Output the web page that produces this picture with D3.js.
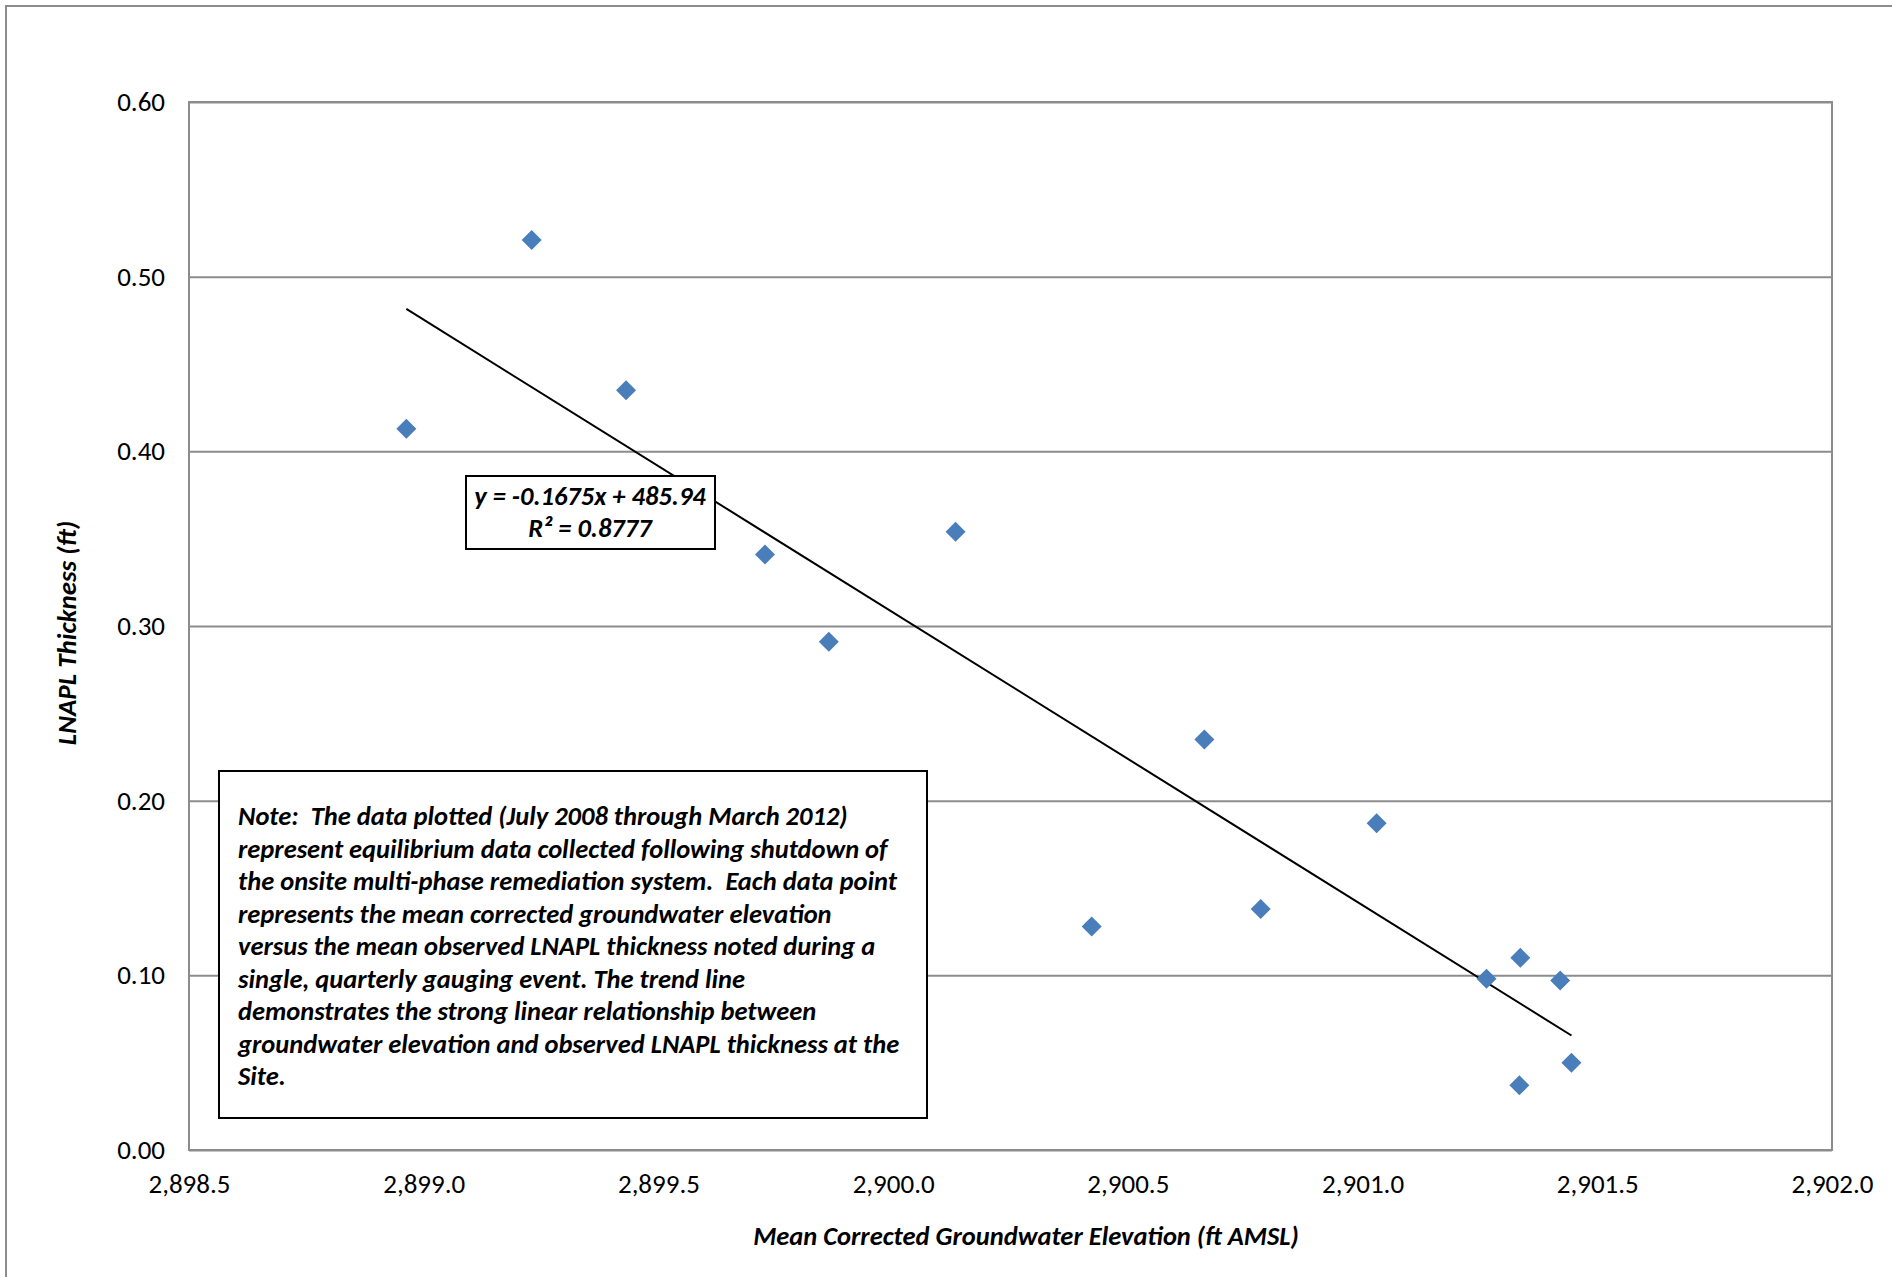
<!DOCTYPE html>
<html>
<head>
<meta charset="utf-8">
<script src="https://cdn.jsdelivr.net/npm/d3@7"></script>
<style>
  body { margin: 0; background: #fff; }
  text { font-family: Carlito, Lato, "Open Sans", sans-serif; fill: #000; }
</style>
</head>
<body>
<div id="chart"></div>
<script>
// Mean corrected groundwater elevation (ft AMSL) vs mean LNAPL thickness (ft)
var elevation = [2898.963, 2899.230, 2899.431, 2899.727, 2899.863, 2900.133, 2900.423,
    2900.663, 2900.783, 2901.030, 2901.264, 2901.336, 2901.421, 2901.334, 2901.445];
var thickness = [0.413, 0.521, 0.435, 0.341, 0.291, 0.354, 0.128,
    0.235, 0.138, 0.187, 0.098, 0.110, 0.097, 0.037, 0.050];
var x_ticks = [2898.5, 2899.0, 2899.5, 2900.0, 2900.5, 2901.0, 2901.5, 2902.0];
var y_ticks = [0.00, 0.10, 0.20, 0.30, 0.40, 0.50, 0.60];
var equation = ['y = -0.1675x + 485.94', 'R² = 0.8777'];
var note = [
    'Note:  The data plotted (July 2008 through March 2012)',
    'represent equilibrium data collected following shutdown of',
    'the onsite multi-phase remediation system.  Each data point',
    'represents the mean corrected groundwater elevation',
    'versus the mean observed LNAPL thickness noted during a',
    'single, quarterly gauging event. The trend line',
    'demonstrates the strong linear relationship between',
    'groundwater elevation and observed LNAPL thickness at the',
    'Site.'
];

var chart_width = 1892;
var chart_height = 1277;
var plot = { left: 189, top: 102, right: 1832, bottom: 1150 };

var svg = d3.select('#chart')
    .append('svg')
    .attr('width', chart_width)
    .attr('height', chart_height);

// chart area border (runs off the right / bottom edge)
svg.append('rect')
    .attr('x', 6).attr('y', 6)
    .attr('width', chart_width + 20).attr('height', chart_height + 20)
    .attr('fill', 'none')
    .attr('stroke', '#8c8c8c')
    .attr('stroke-width', 2);

// scales
var x_scale = d3.scaleLinear()
    .domain([x_ticks[0], x_ticks[x_ticks.length - 1]])
    .range([plot.left, plot.right]);

var y_scale = d3.scaleLinear()
    .domain([y_ticks[0], y_ticks[y_ticks.length - 1]])
    .range([plot.bottom, plot.top]);

// y axis with gridlines
var y_axis = svg.append('g')
    .attr('transform', 'translate(' + plot.left + ',0)')
    .call(d3.axisLeft(y_scale)
        .tickValues(y_ticks)
        .tickSize(-(plot.right - plot.left))
        .tickPadding(24)
        .tickFormat(d3.format('.2f')));
y_axis.select('.domain').remove();
y_axis.selectAll('line')
    .attr('stroke', '#8c8c8c')
    .attr('stroke-width', 2);
y_axis.selectAll('text')
    .attr('font-size', 27)
    .attr('font-family', 'Carlito, Lato, sans-serif');

// x axis labels
var x_axis = svg.append('g')
    .attr('transform', 'translate(0,' + plot.bottom + ')')
    .call(d3.axisBottom(x_scale)
        .tickValues(x_ticks)
        .tickSize(0)
        .tickPadding(24)
        .tickFormat(d3.format(',.1f')));
x_axis.select('.domain').remove();
x_axis.selectAll('text')
    .attr('font-size', 27)
    .attr('font-family', 'Carlito, Lato, sans-serif');

// plot area border
svg.append('rect')
    .attr('x', plot.left).attr('y', plot.top)
    .attr('width', plot.right - plot.left)
    .attr('height', plot.bottom - plot.top)
    .attr('fill', 'none')
    .attr('stroke', '#8c8c8c')
    .attr('stroke-width', 2);

// linear trend line (least squares)
var n = elevation.length;
var mx = d3.mean(elevation), my = d3.mean(thickness);
var sxy = 0, sxx = 0;
for (var i = 0; i < n; i++) {
    sxy += (elevation[i] - mx) * (thickness[i] - my);
    sxx += (elevation[i] - mx) * (elevation[i] - mx);
}
var slope = sxy / sxx;
var intercept = my - slope * mx;
var x_ext = d3.extent(elevation);

svg.append('line')
    .attr('x1', x_scale(x_ext[0]))
    .attr('y1', y_scale(slope * x_ext[0] + intercept))
    .attr('x2', x_scale(x_ext[1]))
    .attr('y2', y_scale(slope * x_ext[1] + intercept))
    .attr('stroke', '#000')
    .attr('stroke-width', 2);

// diamonds
svg.selectAll('path.pt')
    .data(d3.range(n))
    .enter()
    .append('path')
    .attr('class', 'pt')
    .attr('d', d3.symbol(d3.symbolSquare, 200))
    .attr('transform', function (i) {
        return 'translate(' + x_scale(elevation[i]) + ',' + y_scale(thickness[i]) + ') rotate(45)';
    })
    .attr('fill', '#4a7ebb');

// equation box
var eq = svg.append('g');
eq.append('rect')
    .attr('x', 466).attr('y', 476)
    .attr('width', 249).attr('height', 73)
    .attr('fill', '#fff')
    .attr('stroke', '#000')
    .attr('stroke-width', 2);
eq.selectAll('text')
    .data(equation)
    .enter()
    .append('text')
    .attr('x', 590)
    .attr('y', function (d, i) { return 505 + i * 32; })
    .attr('text-anchor', 'middle')
    .attr('font-size', 26.5)
    .attr('font-weight', 'bold')
    .attr('font-style', 'italic')
    .text(function (d) { return d; });

// note box
var nb = svg.append('g');
nb.append('rect')
    .attr('x', 219).attr('y', 771)
    .attr('width', 708).attr('height', 347)
    .attr('fill', '#fff')
    .attr('stroke', '#000')
    .attr('stroke-width', 2);
nb.selectAll('text')
    .data(note)
    .enter()
    .append('text')
    .attr('x', 238)
    .attr('y', function (d, i) { return 825 + i * 32.5; })
    .attr('font-size', 26.5)
    .attr('font-weight', 'bold')
    .attr('font-style', 'italic')
    .attr('xml:space', 'preserve')
    .style('white-space', 'pre')
    .text(function (d) { return d; });

// axis titles
svg.append('text')
    .attr('x', 1026).attr('y', 1245)
    .attr('text-anchor', 'middle')
    .attr('font-size', 26.5)
    .attr('font-weight', 'bold')
    .attr('font-style', 'italic')
    .text('Mean Corrected Groundwater Elevation (ft AMSL)');

svg.append('text')
    .attr('transform', 'translate(76,633) rotate(-90)')
    .attr('text-anchor', 'middle')
    .attr('font-size', 27)
    .attr('font-weight', 'bold')
    .attr('font-style', 'italic')
    .text('LNAPL Thickness (ft)');
</script>
</body>
</html>
